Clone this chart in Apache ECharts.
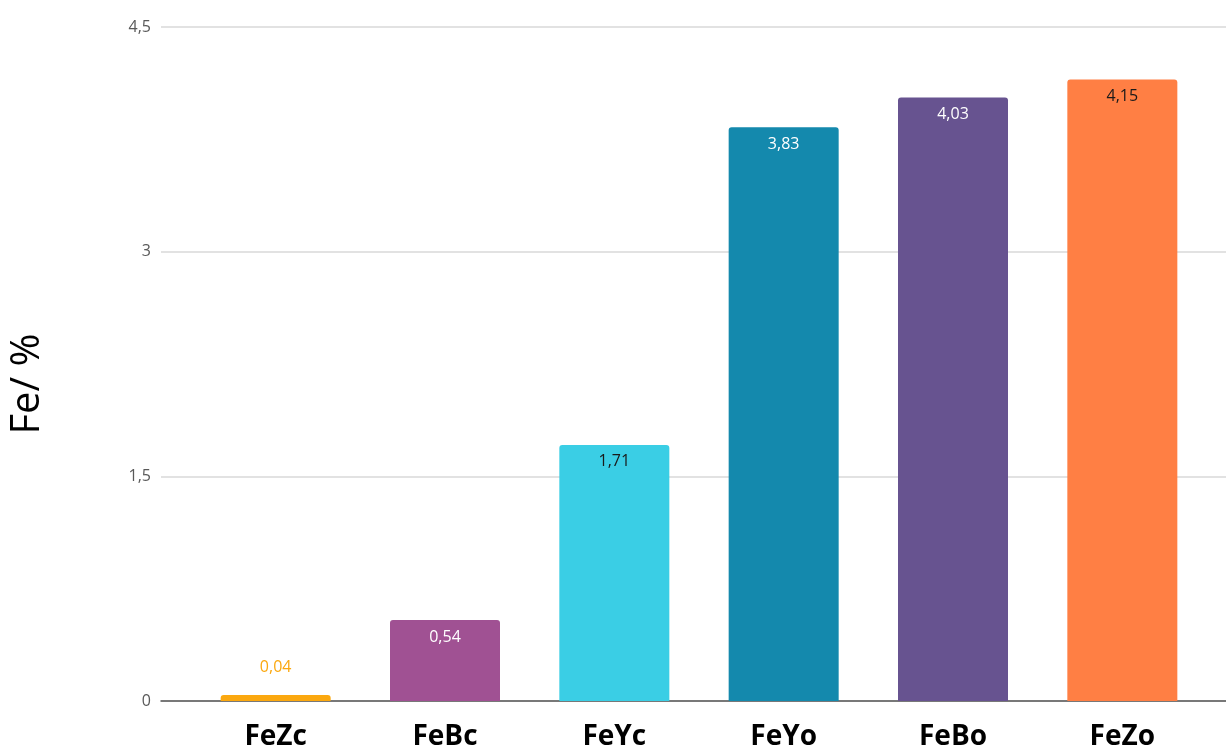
<!DOCTYPE html>
<html>
<head>
<meta charset="utf-8">
<script src="https://cdn.jsdelivr.net/npm/echarts@6/dist/echarts.min.js"></script>
<style>
	html, body { margin: 0; padding: 0; background: #fff; }
	#main { width: 1226px; height: 751px; }
</style>
</head>
<body>
<div id="main"></div>
<script>
	// data
	var categories = ['FeZc', 'FeBc', 'FeYc', 'FeYo', 'FeBo', 'FeZo'];
	var values = [0.04, 0.54, 1.71, 3.83, 4.03, 4.15];
	var barColors = ['#FBA80F', '#A05193', '#3ACEE5', '#1489AD', '#675390', '#FF7F44'];
	var labelColors = ['#FBA80F', '#ffffff', '#1a1a1a', '#ffffff', '#ffffff', '#1a1a1a'];
	var yTicks = [0, 1.5, 3, 4.5];

	function comma(v) {
		return String(v).replace('.', ',');
	}

	var myChart = echarts.init(document.getElementById('main'));

	var barData = values.map(function (v, i) {
		var small = v < 0.2;
		return {
			value: v,
			itemStyle: { color: barColors[i] },
			label: {
				color: labelColors[i],
				position: small ? 'top' : 'insideTop',
				distance: small ? 20 : 9
			}
		};
	});

	var option = {
		backgroundColor: '#ffffff',
		animation: false,
		grid: [
			// grid with the gridlines, full width
			{ left: 161, right: 0, top: 27, bottom: 50 },
			// grid with the bars
			{ left: 191, right: 19, top: 27, bottom: 50 }
		],
		xAxis: [
			{
				gridIndex: 0,
				type: 'value',
				min: 0, max: 1,
				axisLine: { show: true, lineStyle: { color: '#555', width: 1.5 } },
				axisLabel: { show: false },
				axisTick: { show: false },
				splitLine: { show: false }
			},
			{
				gridIndex: 1,
				type: 'category',
				data: categories,
				axisLine: { show: false },
				axisTick: { show: false },
				axisLabel: {
					color: '#000',
					fontFamily: 'Open Sans',
					fontWeight: 'bold',
					fontSize: 28,
					margin: 22
				}
			}
		],
		yAxis: [
			{
				gridIndex: 0,
				type: 'value',
				min: 0, max: 4.5, interval: 1.5,
				axisLine: { show: false },
				axisTick: { show: false },
				axisLabel: {
					color: '#595959',
					fontFamily: 'Open Sans',
					fontSize: 16,
					margin: 10,
					formatter: function (v) { return yTicks.indexOf(v) >= 0 ? comma(v) : ''; }
				},
				splitLine: { show: true, lineStyle: { color: '#d9d9d9', width: 1.5 } }
			},
			{
				gridIndex: 1,
				type: 'value',
				min: 0, max: 4.5, interval: 1.5,
				show: false
			}
		],
		graphic: [
			{
				type: 'text',
				x: 28, y: 384,
				rotation: Math.PI / 2,
				style: {
					text: 'Fe/ %',
					fill: '#000',
					font: '40px "Open Sans"',
					textAlign: 'center',
					textVerticalAlign: 'middle'
				}
			}
		],
		series: [
			{
				type: 'bar',
				xAxisIndex: 1,
				yAxisIndex: 1,
				barWidth: 110,
				data: barData,
				itemStyle: { borderRadius: [3, 3, 0, 0] },
				label: {
					show: true,
					fontFamily: 'Open Sans',
					fontSize: 16,
					formatter: function (p) { return comma(p.value); }
				}
			}
		]
	};

	myChart.setOption(option);
</script>
</body>
</html>
